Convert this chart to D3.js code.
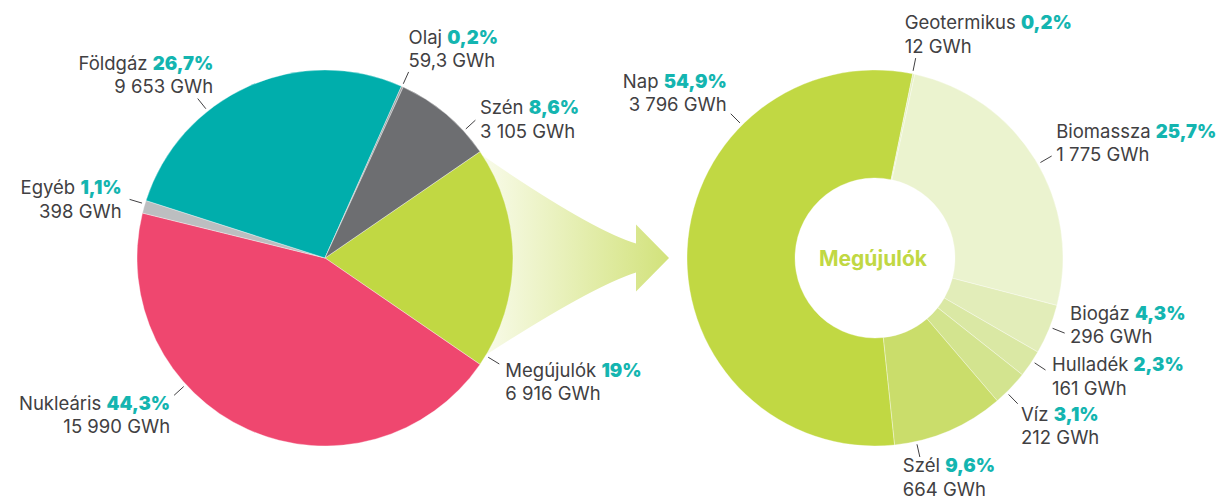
<!DOCTYPE html>
<html>
<head>
<meta charset="utf-8">
<script src="https://cdn.jsdelivr.net/npm/d3@7/dist/d3.min.js"></script>
<style>
body{margin:0;background:#fff;}
svg text{font-family:Inter,Roboto,"Noto Sans",sans-serif;fill:#414042;}
</style>
</head>
<body>
<div id="chart-area"></div>
<script>
// villamosenergia-mix
var mixNames = ["Megújulók", "Nukleáris", "Egyéb", "Földgáz", "Olaj", "Szén"];
var mixGwh = [6916, 15990, 398, 9653, 59.3, 3105];
var mixPct = ["19%", "44,3%", "1,1%", "26,7%", "0,2%", "8,6%"];
var mixGwhLabels = ["6 916 GWh", "15 990 GWh", "398 GWh", "9 653 GWh", "59,3 GWh", "3 105 GWh"];

// megújulók bontása
var renNames = ["Nap", "Geotermikus", "Biomassza", "Biogáz", "Hulladék", "Víz", "Szél"];
var renGwh = [3796, 12, 1775, 296, 161, 212, 664];
var renPct = ["54,9%", "0,2%", "25,7%", "4,3%", "2,3%", "3,1%", "9,6%"];
var renGwhLabels = ["3 796 GWh", "12 GWh", "1 775 GWh", "296 GWh", "161 GWh", "212 GWh", "664 GWh"];
var centerTitle = "Megújulók";

var width = 1220, height = 500;
var radius = 188, holeRadius = 80;
var left = {x: 325, y: 258}, right = {x: 875, y: 258};

var mixColor = d3.scaleOrdinal()
	.domain(mixNames)
	.range(["#c1d843", "#ef476f", "#bcbec0", "#00aeac", "#9d9fa2", "#6d6e71"]);
var renColor = d3.scaleOrdinal()
	.domain(renNames)
	.range(["#c1d843", "#e4eec0", "#ebf3cf", "#e2edb9", "#dae8a4", "#d3e48f", "#cadd6b"]);

// címkék helye: vezetővonal iránya (fok) és szöveg eltolása a vonal végétől
var labelPos = {
	"Földgáz":    {a: 321.4, anchor: "end",   dx: 15.5, dy: -28.6},
	"Olaj":       {a: 24.2,  anchor: "start", dx: 0,    dy: -28},
	"Szén":       {a: 47.5,  anchor: "start", dx: 4.6,  dy: -6},
	"Egyéb":      {a: 286.7, anchor: "end",   dx: -8,   dy: -5},
	"Nukleáris":  {a: 227.7, anchor: "end",   dx: -4,   dy: 14.7},
	"Megújulók":  {a: 121.3, anchor: "start", dx: 6,    dy: 13},
	"Geotermikus":{a: 11.5,  anchor: "start", dx: -11,  dy: -29},
	"Nap":        {a: -45,   anchor: "end",   dx: -4,   dy: -26},
	"Biomassza":  {a: 60,    anchor: "start", dx: 4.5,  dy: -18.5},
	"Biogáz":     {a: 111.6, anchor: "start", dx: 5.4,  dy: -13.5},
	"Hulladék":   {a: 123.3, anchor: "start", dx: 6.6,  dy: 1.4},
	"Víz":        {a: 135.6, anchor: "start", dx: 3.3,  dy: 17},
	"Szél":       {a: 167.3, anchor: "start", dx: -17,  dy: 15}
};

var svg = d3.select("#chart-area").append("svg")
	.attr("width", width)
	.attr("height", height);

var defs = svg.append("defs");
var grad = defs.append("linearGradient")
	.attr("id", "arrowGrad")
	.attr("gradientUnits", "userSpaceOnUse")
	.attr("x1", left.x + radius * 0.8).attr("x2", right.x - radius - 18)
	.attr("y1", 0).attr("y2", 0);
grad.append("stop").attr("offset", "0%").attr("stop-color", "#fafcee");
grad.append("stop").attr("offset", "100%").attr("stop-color", "#d2e27b");

// nyíl a két kör között
function polar(c, r, deg) {
	var t = deg * Math.PI / 180;
	return [c.x + r * Math.sin(t), c.y - r * Math.cos(t)];
}
var tipX = right.x - radius - 18, baseX = tipX - 33;
var p0 = polar(left, radius, 57), p1 = polar(left, radius, 121);
var arrow = d3.path();
arrow.moveTo(p0[0], p0[1]);
arrow.quadraticCurveTo(591, left.y - 28, baseX, left.y - 14.5);
arrow.lineTo(baseX, left.y - 33.5);
arrow.lineTo(tipX, left.y);
arrow.lineTo(baseX, left.y + 33.5);
arrow.lineTo(baseX, left.y + 14.5);
arrow.quadraticCurveTo(591, left.y + 29, p1[0], p1[1]);
arrow.lineTo(left.x + 100, left.y);
arrow.closePath();
svg.append("path")
	.attr("d", arrow.toString())
	.attr("fill", "url(#arrowGrad)");

function drawPie(center, names, values, pcts, gwhLabels, color, start, inner) {
	var data = names.map(function(n, i) {
		return {name: n, value: values[i], pct: pcts[i], gwh: gwhLabels[i]};
	});
	var pie = d3.pie()
		.sort(null)
		.value(function(d) { return d.value; })
		.startAngle(start)
		.endAngle(start + 2 * Math.PI);
	var arc = d3.arc().innerRadius(inner).outerRadius(radius);
	var g = svg.append("g")
		.attr("transform", "translate(" + center.x + "," + center.y + ")");
	g.selectAll("path.slice")
		.data(pie(data))
		.enter()
		.append("path")
		.attr("class", "slice")
		.attr("d", arc)
		.attr("fill", function(d) { return color(d.data.name); })
		.attr("stroke", "#ffffff")
		.attr("stroke-width", 0.5)
		.attr("stroke-opacity", 0.7);

	var labels = g.selectAll("g.label")
		.data(data)
		.enter()
		.append("g")
		.attr("class", "label");
	labels.each(function(d) {
		var pos = labelPos[d.name];
		var t = pos.a * Math.PI / 180;
		var x0 = (radius + 3) * Math.sin(t), y0 = -(radius + 3) * Math.cos(t);
		var x1 = (radius + 16) * Math.sin(t), y1 = -(radius + 16) * Math.cos(t);
		var el = d3.select(this);
		el.append("line")
			.attr("x1", x0).attr("y1", y0)
			.attr("x2", x1).attr("y2", y1)
			.attr("stroke", "#414042")
			.attr("stroke-width", 1);
		var tx = x1 + pos.dx, ty = y1 + pos.dy;
		var text = el.append("text")
			.attr("text-anchor", pos.anchor)
			.attr("font-size", "18.5px");
		text.append("tspan").attr("x", tx).attr("y", ty).text(d.name + " ");
		text.append("tspan")
			.attr("font-weight", 900)
			.style("fill", "#14b5b0")
			.text(d.pct);
		text.append("tspan").attr("x", tx).attr("y", ty + 23.5).text(d.gwh);
	});
	return g;
}

var mixStart = Math.PI / 2 - Math.PI * mixGwh[0] / d3.sum(mixGwh);
drawPie(left, mixNames, mixGwh, mixPct, mixGwhLabels, mixColor, mixStart, 0);

var renStart = 174 * Math.PI / 180;
var donut = drawPie(right, renNames, renGwh, renPct, renGwhLabels, renColor, renStart, holeRadius);
donut.append("text")
	.attr("x", -2)
	.attr("y", 8)
	.attr("text-anchor", "middle")
	.attr("font-size", "21px")
	.attr("font-weight", 700)
	.style("fill", "#c1d843")
	.text(centerTitle);
</script>
</body>
</html>
